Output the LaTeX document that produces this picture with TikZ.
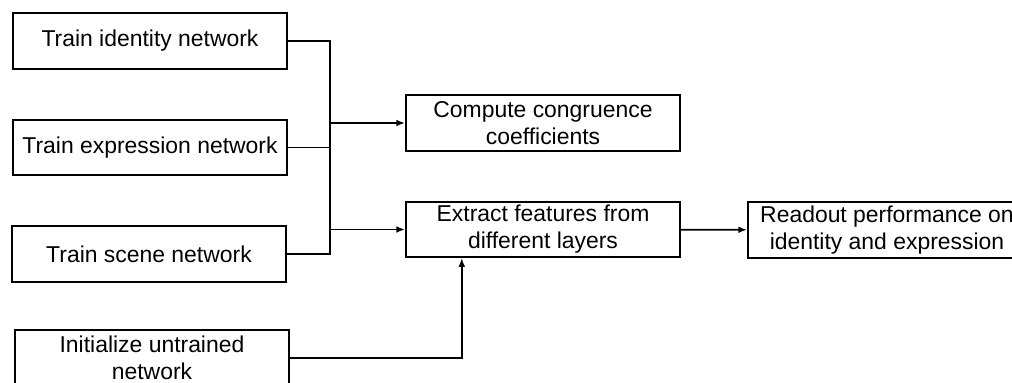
\documentclass[tikz,border=0pt]{standalone}
\usepackage{fontspec}
\setmainfont{Liberation Sans}
\usetikzlibrary{arrows.meta}
\begin{document}
\begin{tikzpicture}[x=0.025cm, y=-0.025cm, line cap=butt, line join=miter,
    stagebox/.style={draw, line width=1.3pt, inner sep=0pt, align=center,
      minimum width=6.85cm, minimum height=1.38cm,
      font=\fontsize{16.3}{19.3}\selectfont},
    link/.style={line width=1.3pt},
    flow/.style={link, -{Latex[length=2.2mm, width=1.7mm]}}]
  \useasboundingbox (0,0) rectangle (1012,382);
  % networks on the left
  \node[stagebox] (ident) at (150,41) {Train identity network};
  \node[stagebox] (expr) at (150,147.5) {Train expression network};
  \node[stagebox] (scene) at (149,254) {Train scene network};
  \node[stagebox] (init) at (152,358) {Initialize untrained\\network};
  % analysis steps
  \node[stagebox] (congr) at (543,123) {Compute congruence\\coefficients};
  \node[stagebox] (extract) at (543,229.5) {Extract features from\\different layers};
  \node[stagebox, minimum width=6.95cm] (readout) at (887,230) {Readout performance on\\identity and expression};
  \coordinate (bus) at (330,0);
  \draw[link] (ident.east) -- (ident.east -| bus) -- (scene.east -| bus) -- (scene.east);
  \draw[link] (expr.east) -- (expr.east -| bus);
  \draw[flow] (congr.west -| bus) -- (congr.west);
  \draw[flow] (extract.west -| bus) -- (extract.west);
  \draw[flow] (extract) -- (readout);
  \draw[flow] (init.east) -| ([xshift=-2.03cm]extract.south);
\end{tikzpicture}
\end{document}
